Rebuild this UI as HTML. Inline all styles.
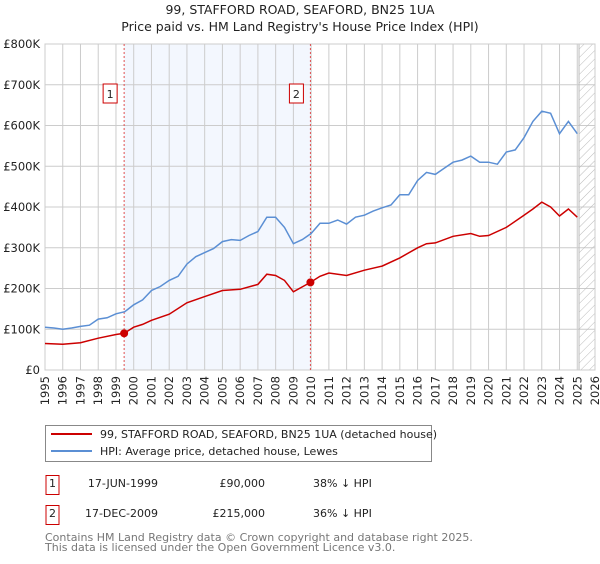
<!DOCTYPE html>
<html><head><meta charset="utf-8"><style>
body{margin:0;background:#fff;font-family:"DejaVu Sans","Liberation Sans",sans-serif;}
svg text{font-family:"DejaVu Sans","Liberation Sans",sans-serif;}
</style></head><body>
<svg id="c" width="600" height="560" xmlns="http://www.w3.org/2000/svg">
<text x="300" y="14" text-anchor="middle" font-size="12.5" fill="#222">99, STAFFORD ROAD, SEAFORD, BN25 1UA</text>
<text x="300" y="31" text-anchor="middle" font-size="12.5" fill="#222">Price paid vs. HM Land Registry's House Price Index (HPI)</text>
<g id="plot"></g>
<g>
<rect x="45.5" y="425.5" width="386" height="36" fill="#fff" stroke="#888"/>
<line x1="51" y1="434" x2="92" y2="434" stroke="#cc0000" stroke-width="2"/>
<text x="100" y="438" font-size="11" fill="#222">99, STAFFORD ROAD, SEAFORD, BN25 1UA (detached house)</text>
<line x1="51" y1="451" x2="92" y2="451" stroke="#5b8fd4" stroke-width="2"/>
<text x="100" y="455" font-size="11" fill="#222">HPI: Average price, detached house, Lewes</text>
</g>
<g font-size="11" fill="#222">
<rect x="46" y="475.5" width="13" height="19" fill="#fff" stroke="#cc0000"/>
<text x="52.5" y="487" text-anchor="middle">1</text>
<text x="158" y="487" text-anchor="end">17-JUN-1999</text>
<text x="265" y="487" text-anchor="end">£90,000</text>
<text x="313" y="487">38% ↓ HPI</text>
<rect x="46" y="505.5" width="13" height="19" fill="#fff" stroke="#cc0000"/>
<text x="52.5" y="517" text-anchor="middle">2</text>
<text x="158" y="517" text-anchor="end">17-DEC-2009</text>
<text x="265" y="517" text-anchor="end">£215,000</text>
<text x="313" y="517">36% ↓ HPI</text>
</g>
<text x="45" y="541" font-size="11" fill="#777">Contains HM Land Registry data © Crown copyright and database right 2025.</text>
<text x="45" y="551" font-size="11" fill="#777">This data is licensed under the Open Government Licence v3.0.</text>
</svg>
<script>
const hpiYears=[1995,1995.5,1996,1996.5,1997,1997.5,1998,1998.5,1999,1999.5,2000,2000.5,2001,2001.5,2002,2002.5,2003,2003.5,2004,2004.5,2005,2005.5,2006,2006.5,2007,2007.5,2008,2008.5,2009,2009.5,2010,2010.5,2011,2011.5,2012,2012.5,2013,2013.5,2014,2014.5,2015,2015.5,2016,2016.5,2017,2017.5,2018,2018.5,2019,2019.5,2020,2020.5,2021,2021.5,2022,2022.5,2023,2023.5,2024,2024.5,2025];
const hpiValues=[105,103,100,103,107,110,125,128,138,143,160,172,195,205,220,230,260,278,288,298,315,320,318,330,340,375,375,350,310,320,335,360,360,368,358,375,380,390,398,405,430,430,465,485,480,495,510,515,525,510,510,505,535,540,570,610,635,630,580,610,580];
const redYears=[1995,1996,1997,1998,1999,1999.46,2000,2000.5,2001,2002,2003,2004,2005,2006,2007,2007.5,2008,2008.5,2009,2009.96,2010.5,2011,2012,2013,2014,2015,2016,2016.5,2017,2018,2019,2019.5,2020,2021,2022,2022.5,2023,2023.5,2024,2024.5,2025];
const redValues=[65,63,67,78,87,90,105,112,122,137,165,180,195,198,210,235,232,220,192,215,230,238,232,245,255,275,300,310,312,328,335,328,330,350,380,395,412,400,378,395,375];
const saleYears=[1999.46,2009.96];
const saleValues=[90,215];
const yTicks=[0,100,200,300,400,500,600,700,800];
const yTickLabels=["£0","£100K","£200K","£300K","£400K","£500K","£600K","£700K","£800K"];
const NS="http://www.w3.org/2000/svg";
const X0=45,X1=595,Y0=370,Y1=44;
const xs=y=>X0+(y-1995)/(2026-1995)*(X1-X0);
const ys=v=>Y0-v/800*(Y0-Y1);
const g=document.getElementById('plot');
function mk(t,a){const e=document.createElementNS(NS,t);for(const k in a)e.setAttribute(k,a[k]);g.appendChild(e);return e;}
let e=mk('rect',{x:xs(saleYears[0]),y:Y1,width:xs(saleYears[1])-xs(saleYears[0]),height:Y0-Y1,fill:'#f3f7fe'});


const d=document.createElementNS(NS,'defs');d.innerHTML='<pattern id="h" width="6" height="6" patternUnits="userSpaceOnUse" patternTransform="rotate(45)"><line x1="0" y1="0" x2="0" y2="6" stroke="#bbb" stroke-width="1"/></pattern>';g.appendChild(d);
for(const v of yTicks){const l=mk('line',{x1:X0,x2:X1,y1:ys(v),y2:ys(v),stroke:'#ccc'});

}
for(let y=1995;y<=2026;y++){const l=mk('line',{x1:xs(y),x2:xs(y),y1:Y1,y2:Y0,stroke:'#ccc'});


const t=mk('text',{transform:`translate(${xs(y)+4},${Y0+6}) rotate(-90)`,'text-anchor':'end','font-size':'11.5',fill:'#222'});t.textContent=y;

}
e=mk('rect',{x:xs(2025.1),y:Y1,width:X1-xs(2025.1),height:Y0-Y1,fill:'url(#h)',stroke:'#bbb'});


yTicks.forEach((v,i)=>{const t=mk('text',{x:X0-5,y:ys(v)+4,'text-anchor':'end','font-size':'11.5',fill:'#222'});t.textContent=yTickLabels[i];

});
mk('rect',{x:X0,y:Y1,width:X1-X0,height:Y0-Y1,fill:'none',stroke:'#ccc'});
saleYears.forEach((y,i)=>{const l=mk('line',{x1:xs(y),x2:xs(y),y1:Y1,y2:Y0,stroke:'#e05050','stroke-dasharray':'2,2'});


const r=mk('rect',{x:xs(y)-21,y:84,width:14,height:19,fill:'#fff',stroke:'#cc0000'});


const t=mk('text',{x:xs(y)-14,y:98,'text-anchor':'middle','font-size':'11',fill:'#222'});t.textContent=i+1;

});
const pts=(xa,va)=>xa.map((x,i)=>xs(x).toFixed(1)+','+ys(va[i]).toFixed(1)).join(' ');
e=mk('polyline',{points:pts(hpiYears,hpiValues),fill:'none',stroke:'#5b8fd4','stroke-width':1.5});


e=mk('polyline',{points:pts(redYears,redValues),fill:'none',stroke:'#cc0000','stroke-width':1.5});


saleYears.forEach((y,i)=>{const c=mk('circle',{cx:xs(y),cy:ys(saleValues[i]),r:4,fill:'#cc0000'});

});
</script>
</body></html>
